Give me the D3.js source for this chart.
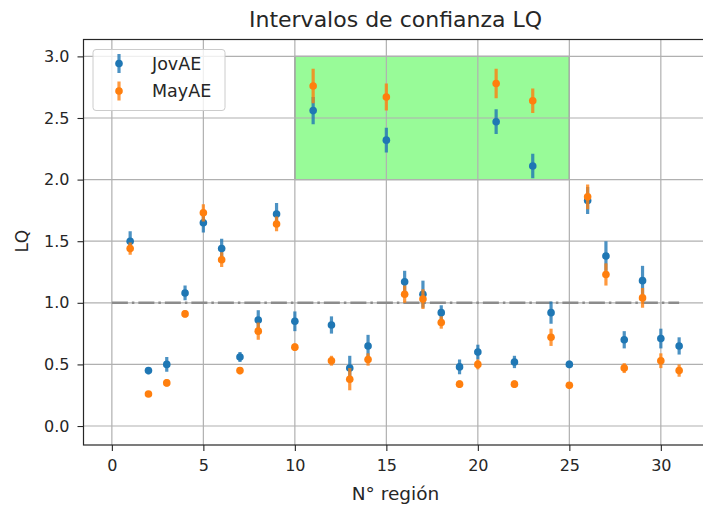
<!DOCTYPE html>
<html>
<head>
<meta charset="utf-8">
<script src="https://cdn.jsdelivr.net/npm/d3@7"></script>
<style>
  body { margin: 0; background: #fff; }
  text { font-family: "DejaVu Sans", sans-serif; fill: #262626; }
</style>
</head>
<body>
<div id="chart"></div>
<script>

// data
var regions = d3.range(1, 32);
var jovAE    = [1.50,0.45,0.50,1.08,1.65,1.44,0.56,0.86,1.72,0.85,2.56,0.82,0.47,0.65,2.32,1.17,1.07,0.92,0.48,0.60,2.47,0.52,2.11,0.92,0.50,1.83,1.38,0.70,1.18,0.71,0.65];
var jovErr   = [0.08,0.03,0.06,0.06,0.08,0.08,0.04,0.08,0.09,0.08,0.11,0.07,0.10,0.09,0.10,0.09,0.11,0.06,0.06,0.06,0.10,0.05,0.10,0.09,0.03,0.11,0.12,0.07,0.12,0.08,0.07];
var mayAE    = [1.44,0.26,0.35,0.91,1.73,1.35,0.45,0.77,1.64,0.64,2.76,0.53,0.38,0.54,2.67,1.07,1.03,0.84,0.34,0.50,2.78,0.34,2.64,0.72,0.33,1.86,1.23,0.47,1.04,0.53,0.45];
var mayErr   = [0.05,0.02,0.03,0.03,0.07,0.06,0.03,0.07,0.06,0.03,0.14,0.04,0.09,0.05,0.11,0.07,0.08,0.05,0.03,0.04,0.12,0.03,0.10,0.07,0.02,0.10,0.09,0.04,0.08,0.06,0.05];
var xTicks = [0, 5, 10, 15, 20, 25, 30];
var yTicks = [0, 0.5, 1.0, 1.5, 2.0, 2.5, 3.0];
var refLine = [[0, 1], [31, 1]];
var highlight = {x0: 10, x1: 25, y0: 2, y1: 3};

var width = 703, height = 509;
var pLeft = 83.5, pRight = 707.5, pTop = 39.5, pBottom = 445;

var x = d3.scaleLinear().domain([-1.55, 32.55]).range([pLeft, pRight]);
var y = d3.scaleLinear().domain([-0.154, 3.137]).range([pBottom, pTop]);

var svg = d3.select("#chart").append("svg")
    .attr("width", width)
    .attr("height", height);

var defs = svg.append("defs");
defs.append("clipPath").attr("id", "plot")
  .append("rect")
    .attr("x", pLeft).attr("y", pTop)
    .attr("width", pRight - pLeft).attr("height", pBottom - pTop);

var plot = svg.append("g").attr("clip-path", "url(#plot)");

// green box
plot.append("rect")
    .attr("x", x(highlight.x0))
    .attr("y", y(highlight.y1))
    .attr("width", x(highlight.x1) - x(highlight.x0))
    .attr("height", y(highlight.y0) - y(highlight.y1))
    .attr("fill", "#98fb98")
    .attr("stroke", "#7f7f7f")
    .attr("stroke-width", 1.2);

// grid
plot.selectAll(".gx").data(xTicks).enter().append("line")
    .attr("x1", d => x(d)).attr("x2", d => x(d))
    .attr("y1", pTop).attr("y2", pBottom)
    .attr("stroke", "#b0b0b0").attr("stroke-width", 1.2);
plot.selectAll(".gy").data(yTicks).enter().append("line")
    .attr("y1", d => y(d)).attr("y2", d => y(d))
    .attr("x1", pLeft).attr("x2", pRight)
    .attr("stroke", "#b0b0b0").attr("stroke-width", 1.2);

// reference line at LQ = 1
plot.append("path")
    .attr("d", d3.line().x(d => x(d[0])).y(d => y(d[1]))(refLine))
    .attr("stroke", "#8c8c8c")
    .attr("stroke-width", 2.5)
    .attr("stroke-dasharray", "16,4,2.5,4")
    .attr("fill", "none");

function drawSeries(vals, errs, color) {
    var g = plot.append("g");
    g.selectAll("line").data(regions).enter().append("line")
        .attr("x1", d => x(d)).attr("x2", d => x(d))
        .attr("y1", (d, i) => y(vals[i] - errs[i]))
        .attr("y2", (d, i) => y(vals[i] + errs[i]))
        .attr("stroke", color).attr("stroke-width", 3.2)
        .attr("stroke-opacity", 0.8);
    g.selectAll("circle").data(regions).enter().append("circle")
        .attr("cx", d => x(d))
        .attr("cy", (d, i) => y(vals[i]))
        .attr("r", 3.8)
        .attr("fill", color);
}
drawSeries(jovAE, jovErr, "#1f77b4");
drawSeries(mayAE, mayErr, "#ff7f0e");

// spines
svg.append("rect")
    .attr("x", pLeft).attr("y", pTop)
    .attr("width", pRight - pLeft).attr("height", pBottom - pTop)
    .attr("fill", "none").attr("stroke", "#262626").attr("stroke-width", 1.2);

// axes
var xAxis = svg.append("g")
    .attr("transform", "translate(0," + pBottom + ")")
    .call(d3.axisBottom(x).tickValues(xTicks).tickFormat(d3.format("d")).tickSize(6).tickPadding(9));
var yAxis = svg.append("g")
    .attr("transform", "translate(" + pLeft + ",0)")
    .call(d3.axisLeft(y).tickValues(yTicks).tickFormat(d3.format(".1f")).tickSize(6).tickPadding(8));
[xAxis, yAxis].forEach(function(a) {
    a.select(".domain").remove();
    a.selectAll("line").attr("stroke", "#262626").attr("stroke-width", 1.1);
    a.selectAll("text").attr("font-size", 16).attr("fill", "#262626")
        .attr("font-family", "DejaVu Sans, sans-serif");
});

// titles
svg.append("text")
    .attr("x", (pLeft + pRight) / 2).attr("y", 27)
    .attr("text-anchor", "middle").attr("font-size", 22)
    .text("Intervalos de confianza LQ");
svg.append("text")
    .attr("x", (pLeft + pRight) / 2).attr("y", 500)
    .attr("text-anchor", "middle").attr("font-size", 18.5)
    .text("N° región");
svg.append("text")
    .attr("transform", "translate(28," + y(1.5) + ") rotate(-90)")
    .attr("text-anchor", "middle").attr("font-size", 17)
    .text("LQ");

// legend
var legendItems = [["JovAE", "#1f77b4"], ["MayAE", "#ff7f0e"]];
var legend = svg.append("g");
legend.append("rect")
    .attr("x", 93).attr("y", 49.5).attr("width", 132).attr("height", 61)
    .attr("rx", 3)
    .attr("fill", "#fff").attr("fill-opacity", 0.8)
    .attr("stroke", "#cccccc").attr("stroke-width", 1);
var li = legend.selectAll(".li").data(legendItems).enter().append("g")
    .attr("transform", (d, i) => "translate(119," + (63.5 + i * 27.5) + ")");
li.append("line")
    .attr("y1", -9.5).attr("y2", 9.5)
    .attr("stroke", d => d[1]).attr("stroke-width", 3.2).attr("stroke-opacity", 0.8);
li.append("circle").attr("r", 3.8).attr("fill", d => d[1]);
li.append("text")
    .attr("x", 33).attr("dy", "0.35em")
    .attr("font-size", 17.5)
    .text(d => d[0]);
</script>
</body>
</html>
